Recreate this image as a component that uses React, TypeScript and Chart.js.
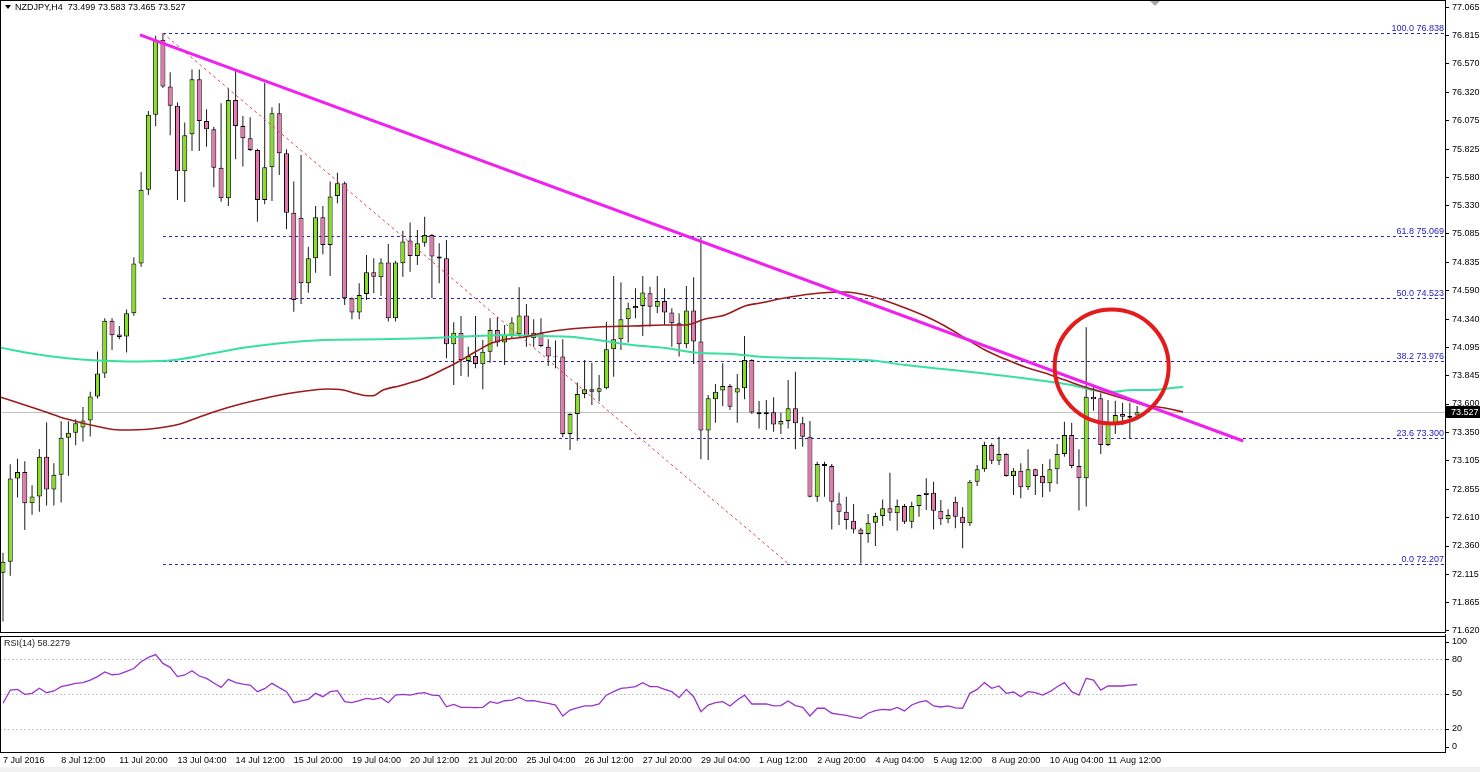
import React, { useEffect, useRef } from "react";
import { Chart, registerables } from "chart.js";

Chart.register(...registerables);

const FONT = '"Liberation Sans", Arial, sans-serif';

const SYMBOL = "NZDJPY,H4";
const TIME_LABELS = [
  "7 Jul 2016", "8 Jul 12:00", "11 Jul 20:00", "13 Jul 04:00", "14 Jul 12:00",
  "15 Jul 20:00", "19 Jul 04:00", "20 Jul 12:00", "21 Jul 20:00", "25 Jul 04:00",
  "26 Jul 12:00", "27 Jul 20:00", "29 Jul 04:00", "1 Aug 12:00", "2 Aug 20:00",
  "4 Aug 04:00", "5 Aug 12:00", "8 Aug 20:00", "10 Aug 04:00", "11 Aug 12:00",
];
const LABEL_STEP = 8;

const OPEN = [
  72.127, 72.223, 72.950, 73.006, 72.733, 72.793, 73.140, 72.853, 72.983, 73.306,
  73.349, 73.395, 73.456, 73.666, 73.866, 74.326, 74.206, 74.190, 74.392, 74.826,
  75.472, 76.125, 76.781, 76.372, 76.205, 75.632, 75.955, 76.435, 76.072, 75.999,
  75.664, 75.396, 76.255, 76.028, 75.920, 75.818, 75.382, 75.667, 76.139, 75.789,
  75.271, 75.227, 74.654, 74.872, 75.230, 74.989, 75.417, 75.527, 74.523, 74.398,
  74.561, 74.750, 74.707, 74.835, 74.348, 74.829, 75.027, 74.893, 75.009, 75.076,
  74.887, 74.873, 74.121, 74.223, 73.976, 74.020, 73.947, 74.057, 74.247, 74.136,
  74.203, 74.209, 74.372, 74.174, 74.223, 74.101, 74.014, 74.014, 73.338, 73.513,
  73.688, 73.729, 73.708, 73.737, 74.078, 74.165, 74.340, 74.436, 74.456, 74.567,
  74.450, 74.500, 74.398, 74.305, 74.121, 74.416, 74.145, 73.368, 73.641, 73.717,
  73.758, 73.700, 73.737, 73.985, 73.527, 73.510, 73.527, 73.422, 73.451, 73.562,
  73.431, 73.315, 72.791, 73.076, 73.058, 72.732, 72.660, 72.581, 72.505, 72.464,
  72.563, 72.622, 72.689, 72.645, 72.709, 72.572, 72.709, 72.805, 72.825, 72.668,
  72.593, 72.747, 72.616, 72.558, 72.922, 73.030, 73.242, 73.105, 73.163, 72.971,
  73.018, 72.872, 73.030, 72.971, 72.907, 73.030, 73.163, 73.329, 73.059, 72.951,
  73.664, 73.650, 73.242, 73.425, 73.513, 73.480, 73.499,
];
const HIGH = [
  72.300, 73.073, 73.123, 73.099, 72.890, 73.206, 73.439, 73.083, 73.449, 73.449,
  73.466, 73.573, 73.706, 74.059, 74.349, 74.349, 74.282, 74.426, 74.882, 75.625,
  76.158, 76.815, 76.838, 76.498, 76.232, 76.058, 76.520, 76.520, 76.173, 76.022,
  76.226, 76.357, 76.520, 76.115, 76.104, 75.830, 76.406, 76.191, 76.226, 75.824,
  75.542, 75.775, 74.974, 75.329, 75.329, 75.542, 75.620, 75.542, 74.530, 74.654,
  74.901, 74.872, 74.873, 74.998, 74.850, 75.114, 75.184, 75.120, 75.236, 75.085,
  75.003, 75.033, 74.313, 74.369, 74.101, 74.369, 74.159, 74.348, 74.357, 74.290,
  74.357, 74.619, 74.473, 74.340, 74.348, 74.165, 74.154, 74.165, 73.520, 73.787,
  73.985, 73.961, 73.854, 74.319, 74.718, 74.660, 74.485, 74.611, 74.718, 74.625,
  74.718, 74.611, 74.436, 74.392, 74.631, 74.707, 75.062, 73.679, 73.775, 73.956,
  73.775, 73.862, 74.194, 73.990, 73.626, 73.635, 73.658, 73.524, 73.809, 73.882,
  73.489, 73.451, 73.096, 73.096, 73.076, 72.828, 72.791, 72.726, 72.520, 72.639,
  72.651, 72.767, 73.000, 72.767, 72.726, 72.747, 72.810, 72.951, 72.921, 72.761,
  72.680, 72.791, 72.698, 72.936, 73.067, 73.271, 73.257, 73.315, 73.170, 73.038,
  73.082, 73.204, 73.035, 73.076, 73.117, 73.251, 73.446, 73.437, 73.204, 74.270,
  73.766, 73.693, 73.635, 73.629, 73.612, 73.612, 73.583,
];
const LOW = [
  71.700, 72.100, 72.783, 72.500, 72.633, 72.660, 72.713, 72.713, 72.740, 72.973,
  73.239, 73.273, 73.316, 73.649, 73.826, 74.072, 74.166, 74.049, 74.370, 74.799,
  75.425, 76.025, 76.360, 75.948, 75.382, 75.365, 75.810, 75.810, 75.847, 75.492,
  75.367, 75.329, 75.737, 75.673, 75.810, 75.192, 75.344, 75.373, 75.600, 75.126,
  74.406, 74.473, 74.572, 74.747, 74.907, 74.718, 75.353, 74.465, 74.340, 74.340,
  74.508, 74.567, 74.544, 74.320, 74.320, 74.712, 74.756, 74.814, 74.974, 74.523,
  74.654, 73.999, 73.766, 73.845, 73.839, 73.912, 73.728, 73.961, 74.101, 73.941,
  74.174, 74.188, 74.101, 74.101, 74.095, 73.932, 73.912, 73.309, 73.199, 73.280,
  73.650, 73.592, 73.621, 73.728, 73.839, 74.072, 74.136, 74.349, 74.194, 74.276,
  74.392, 74.290, 74.101, 74.014, 74.087, 73.950, 73.117, 73.111, 73.437, 73.583,
  73.548, 73.437, 73.641, 73.513, 73.387, 73.373, 73.358, 73.338, 73.387, 73.204,
  73.227, 72.785, 72.747, 72.791, 72.505, 72.543, 72.505, 72.470, 72.207, 72.389,
  72.360, 72.534, 72.581, 72.494, 72.552, 72.514, 72.616, 72.674, 72.505, 72.543,
  72.558, 72.514, 72.340, 72.535, 72.884, 73.009, 73.076, 73.067, 72.965, 72.805,
  72.776, 72.849, 72.805, 72.785, 72.834, 72.902, 73.140, 73.038, 72.669, 72.704,
  73.542, 73.163, 73.233, 73.338, 73.417, 73.300, 73.465,
];
const CLOSE = [
  72.223, 72.950, 73.006, 72.733, 72.793, 73.140, 72.853, 72.983, 73.306, 73.349,
  73.433, 73.456, 73.666, 73.866, 74.326, 74.200, 74.185, 74.392, 74.826, 75.472,
  76.125, 76.781, 76.372, 76.205, 75.632, 75.948, 76.435, 76.072, 75.999, 75.664,
  75.396, 76.255, 76.028, 75.920, 75.818, 75.382, 75.667, 76.139, 75.789, 75.271,
  74.508, 74.654, 74.872, 75.230, 74.989, 75.411, 75.527, 74.523, 74.398, 74.552,
  74.750, 74.712, 74.835, 74.348, 74.835, 75.018, 74.893, 75.003, 75.076, 74.887,
  74.870, 74.121, 74.223, 73.985, 74.020, 73.950, 74.057, 74.247, 74.136, 74.203,
  74.311, 74.372, 74.182, 74.223, 74.107, 74.014, 74.008, 73.338, 73.513, 73.688,
  73.729, 73.708, 73.737, 74.078, 74.165, 74.340, 74.436, 74.456, 74.573, 74.450,
  74.500, 74.398, 74.305, 74.121, 74.416, 74.145, 73.368, 73.650, 73.708, 73.758,
  73.577, 73.737, 73.985, 73.525, 73.510, 73.527, 73.422, 73.451, 73.562, 73.431,
  73.315, 72.791, 73.076, 73.058, 72.747, 72.660, 72.587, 72.505, 72.464, 72.563,
  72.622, 72.689, 72.651, 72.709, 72.572, 72.709, 72.805, 72.825, 72.668, 72.593,
  72.631, 72.616, 72.558, 72.922, 73.030, 73.242, 73.105, 73.163, 72.971, 73.018,
  72.872, 73.030, 72.971, 72.907, 73.030, 73.163, 73.329, 73.059, 72.951, 73.664,
  73.641, 73.242, 73.425, 73.504, 73.489, 73.495, 73.527,
];

const RSI = [
  42, 53.4, 54, 49.7, 50.6, 54.9, 51.1, 52.6, 56.3, 57.7,
  59.2, 59.8, 62, 65, 69, 66.6, 67.2, 69.5, 72, 77.8,
  81.6, 84, 76.4, 73, 65, 66.4, 70, 65.5, 63.5, 59.5,
  55.7, 62.6, 59.8, 58.5, 57.7, 52, 54.6, 59.2, 55.5, 52,
  42.5, 44, 45.4, 50.6, 47.7, 52, 52.9, 43.4, 42.5, 44.3,
  46.3, 45.4, 46.8, 42.5, 49.1, 49.7, 49.1, 50.5, 51.1, 49.1,
  48.6, 39, 41.1, 38.5, 38.5, 38.3, 38.5, 43.4, 42, 44.2,
  44.8, 47.1, 44, 44.3, 43, 42, 40.5, 31, 36.2, 38,
  39.7, 39.7, 41.4, 49, 52, 54.9, 55.5, 56.3, 59.8, 56.3,
  56.3, 54, 52, 46.8, 54, 47.7, 34.8, 40.5, 42.5, 43.4,
  39.7, 44.8, 49, 41.4, 41.4, 41.4, 39.7, 40, 44, 40,
  38.5, 31, 37.7, 37.7, 33.4, 32.5, 31.5, 30, 29, 33.4,
  35.6, 36.8, 36.2, 38.5, 35.4, 40.5, 43, 44.3, 39.7, 38.8,
  39.7, 38, 37.7, 50.6, 54, 59.8, 54.9, 56.9, 50.6, 51.7,
  47.7, 52, 51.1, 49, 52, 56.3, 59.8, 52, 49, 63.5,
  62, 53.4, 56.9, 57, 56.9, 57.7, 58.2,
];
const RSI_LAST = "58.2279";

const MA_BROWN_X = [
  -0.41, 5.09, 8.8, 13.34, 16.09, 20.22, 24.35, 27.1, 29.85, 32.19, 34.94, 38.1, 40.85, 44.57,
  46.77, 48.14, 50.07, 50.89, 52.27, 54.61, 58.05, 60.39, 62.59, 64.92, 67.26, 69.46, 71.8,
  74.14, 77.99, 81.84, 86.52, 91.06, 93.81, 96.56, 99.31, 102.06, 104.13, 108.25, 112.38,
  115.82, 119.26, 123.38, 126.82, 129.57, 132.32, 135.08, 137.83, 140.58, 143.33, 146.08,
  148.83, 151.58, 154.33, 157.08, 159.83, 162.31,
];
const MA_BROWN_Y = [
  73.661, 73.548, 73.469, 73.399, 73.373, 73.382, 73.425, 73.489, 73.548, 73.591, 73.635,
  73.679, 73.707, 73.731, 73.722, 73.699, 73.672, 73.672, 73.722, 73.76, 73.827, 73.897,
  73.967, 74.054, 74.133, 74.168, 74.185, 74.22, 74.255, 74.272, 74.281, 74.29, 74.29,
  74.342, 74.377, 74.456, 74.482, 74.534, 74.569, 74.578, 74.543, 74.456, 74.368, 74.281,
  74.176, 74.071, 73.993, 73.923, 73.87, 73.809, 73.748, 73.696, 73.644, 73.591, 73.565, 73.53,
];
const MA_GREEN_X = [
  -0.41, 4.13, 8.8, 12.93, 17.06, 22.5, 28.89, 33.56, 38.1, 44.02, 51.86, 58.05, 64.92,
  69.46, 74.14, 77.99, 81.84, 86.52, 91.06, 95.6, 100.28, 104.13, 109.63, 115.13, 119.94,
  124.07, 129.57, 134.11, 138.79, 143.33, 147.04, 149.79, 152.54, 155.3, 158.05, 160.8, 162.31,
];
const MA_GREEN_Y = [
  74.093, 74.039, 73.999, 73.979, 73.972, 73.978, 74.043, 74.095, 74.13, 74.159,
  74.165, 74.174, 74.194, 74.203, 74.194, 74.188, 74.159, 74.115, 74.089, 74.048, 74.037,
  74.013, 74.002, 73.993, 73.978, 73.94, 73.903, 73.873, 73.838, 73.801, 73.766, 73.722,
  73.707, 73.722, 73.722, 73.74, 73.751,
];

const PRICE_TICKS = [
  77.065, 76.815, 76.57, 76.32, 76.075, 75.825, 75.58, 75.33, 75.085, 74.835, 74.59, 74.34,
  74.095, 73.845, 73.6, 73.35, 73.105, 72.855, 72.61, 72.36, 72.115, 71.865, 71.62,
];
const RSI_TICKS = [100, 80, 50, 20, 0];
const RSI_LEVELS = [80, 50, 20];

const FIB_LEVELS = [100, 61.8, 50, 38.2, 23.6, 0];
const FIB_PRICES = [76.838, 75.069, 74.523, 73.976, 73.3, 72.207];
const FIB_ANCHOR_X = [22, 108];
const FIB_ANCHOR_Y = [76.838, 72.207];

const TREND_X = [18.84, 170.6];
const TREND_Y = [76.823, 73.277];

const CIRCLE_X = 152.5;
const CIRCLE_Y = 73.927;
const CIRCLE_R = 57;

const X_MIN = -0.41;
const X_MAX = 198.35;
const Y_MIN = 71.609;
const Y_MAX = 77.128;

const BULL = "#84e01e";
const BEAR = "#e674ad";

const zip = (xs: number[], ys: number[]) =>
  xs.slice(0, Math.min(xs.length, ys.length)).map((x, i) => ({ x, y: ys[i] }));

const mainDecor = {
  id: "mainDecor",
  beforeDatasetsDraw(chart: any) {
    const { ctx, chartArea: a, scales } = chart;
    const x = scales.x;
    const y = scales.y;
    ctx.save();
    ctx.beginPath();
    ctx.rect(a.left, a.top, a.right - a.left, a.bottom - a.top);
    ctx.clip();
    ctx.lineWidth = 1;
    const last = CLOSE[CLOSE.length - 1];
    const py = Math.round(y.getPixelForValue(last)) + 0.5;
    ctx.strokeStyle = "#c0c0c0";
    ctx.beginPath();
    ctx.moveTo(a.left, py);
    ctx.lineTo(a.right, py);
    ctx.stroke();
    const fx = x.getPixelForValue(FIB_ANCHOR_X[0]);
    ctx.strokeStyle = "#2424b4";
    ctx.setLineDash([3, 3]);
    FIB_PRICES.forEach((p) => {
      const yy = Math.round(y.getPixelForValue(p)) + 0.5;
      ctx.beginPath();
      ctx.moveTo(fx, yy);
      ctx.lineTo(a.right, yy);
      ctx.stroke();
    });
    ctx.restore();
  },
  afterDatasetsDraw(chart: any) {
    const { ctx, chartArea: a, scales } = chart;
    const x = scales.x;
    const y = scales.y;
    ctx.save();
    ctx.strokeStyle = "#e31b1b";
    ctx.lineWidth = 4;
    ctx.beginPath();
    ctx.arc(x.getPixelForValue(CIRCLE_X), y.getPixelForValue(CIRCLE_Y), CIRCLE_R, 0, Math.PI * 2);
    ctx.stroke();
    ctx.font = `9px ${FONT}`;
    ctx.fillStyle = "#2020c0";
    ctx.textAlign = "right";
    ctx.textBaseline = "alphabetic";
    FIB_LEVELS.forEach((lv, k) => {
      const yy = y.getPixelForValue(FIB_PRICES[k]);
      ctx.fillText(`${lv.toFixed(1)} ${FIB_PRICES[k].toFixed(3)}`, a.right - 1, yy - 2);
    });
    ctx.restore();
  },
  afterDraw(chart: any) {
    const { ctx, chartArea: a, scales, width } = chart;
    const y = scales.y;
    ctx.save();
    ctx.strokeStyle = "#000";
    ctx.lineWidth = 1;
    ctx.strokeRect(a.left + 0.5, a.top + 0.5, a.right - a.left, a.bottom - a.top);
    ctx.fillStyle = "#000";
    ctx.beginPath();
    ctx.moveTo(5, 5);
    ctx.lineTo(11, 5);
    ctx.lineTo(8, 9);
    ctx.closePath();
    ctx.fill();
    const n = CLOSE.length - 1;
    const title = `${SYMBOL}  ${OPEN[n].toFixed(3)} ${HIGH[n].toFixed(3)} ${LOW[n].toFixed(3)} ${CLOSE[n].toFixed(3)}`;
    ctx.font = `9px ${FONT}`;
    ctx.textAlign = "left";
    ctx.textBaseline = "middle";
    ctx.fillText(title, 15, 8);
    ctx.fillStyle = "#a8a8a8";
    ctx.beginPath();
    ctx.moveTo(a.left + 1150, 1);
    ctx.lineTo(a.left + 1160, 1);
    ctx.lineTo(a.left + 1155, 6);
    ctx.closePath();
    ctx.fill();
    const py = Math.round(y.getPixelForValue(CLOSE[n]));
    ctx.fillStyle = "#000";
    ctx.fillRect(a.right + 1, py - 6, width - a.right - 1, 12);
    ctx.fillStyle = "#fff";
    ctx.fillText(CLOSE[n].toFixed(3), a.right + 6, py + 0.5);
    ctx.restore();
  },
};

const rsiDecor = {
  id: "rsiDecor",
  beforeDatasetsDraw(chart: any) {
    const { ctx, chartArea: a, scales } = chart;
    const y = scales.y;
    ctx.save();
    ctx.strokeStyle = "#c4c4c4";
    ctx.lineWidth = 1;
    ctx.setLineDash([2, 2]);
    RSI_LEVELS.forEach((v) => {
      const yy = Math.round(y.getPixelForValue(v)) + 0.5;
      ctx.beginPath();
      ctx.moveTo(a.left, yy);
      ctx.lineTo(a.right, yy);
      ctx.stroke();
    });
    ctx.restore();
  },
  afterDraw(chart: any) {
    const { ctx, chartArea: a, scales } = chart;
    const y = scales.y;
    ctx.save();
    ctx.strokeStyle = "#000";
    ctx.lineWidth = 1;
    ctx.strokeRect(a.left + 0.5, a.top + 0.5, a.right - a.left, a.bottom - a.top);
    ctx.beginPath();
    ctx.moveTo(a.right + 0.5, 0);
    ctx.lineTo(a.right + 0.5, a.top);
    ctx.stroke();
    ctx.font = `9px ${FONT}`;
    ctx.fillStyle = "#000";
    ctx.textAlign = "left";
    ctx.textBaseline = "middle";
    RSI_TICKS.forEach((v) => {
      const raw = y.getPixelForValue(v);
      const yy = Math.min(Math.max(raw, a.top + 6), a.bottom - 5);
      ctx.beginPath();
      ctx.moveTo(a.right, Math.round(yy) + 0.5);
      ctx.lineTo(a.right + 4, Math.round(yy) + 0.5);
      ctx.stroke();
      ctx.fillText(String(v), a.right + 7, yy);
    });
    ctx.fillStyle = "#222";
    ctx.fillText(`RSI(14) ${RSI_LAST}`, a.left + 4, a.top + 8);
    ctx.restore();
  },
};

export default function App() {
  const mainRef = useRef<HTMLCanvasElement>(null);
  const rsiRef = useRef<HTMLCanvasElement>(null);

  useEffect(() => {
    document.body.style.margin = "0";
    const idx = OPEN.map((_, i) => i);
    const bodyColors = idx.map((i) => (CLOSE[i] >= OPEN[i] ? BULL : BEAR));

    const main = new Chart(mainRef.current as HTMLCanvasElement, {
      type: "bar",
      data: {
        datasets: [
          {
            type: "line",
            data: zip(TREND_X, TREND_Y),
            borderColor: "#f020f0",
            borderWidth: 3,
            pointRadius: 0,
            order: 1,
          } as any,
          {
            type: "line",
            data: zip(MA_BROWN_X, MA_BROWN_Y),
            borderColor: "#9e1a1a",
            borderWidth: 1.6,
            pointRadius: 0,
            cubicInterpolationMode: "monotone",
            order: 2,
          } as any,
          {
            type: "line",
            data: zip(MA_GREEN_X, MA_GREEN_Y),
            borderColor: "#38e0a0",
            borderWidth: 2,
            pointRadius: 0,
            cubicInterpolationMode: "monotone",
            order: 3,
          } as any,
          {
            type: "line",
            data: zip(FIB_ANCHOR_X, FIB_ANCHOR_Y),
            borderColor: "#e04848",
            borderWidth: 1,
            borderDash: [3, 3],
            pointRadius: 0,
            order: 4,
          } as any,
          {
            type: "bar",
            data: idx.map((i) => ({ x: i, y: [OPEN[i], CLOSE[i]] })),
            backgroundColor: bodyColors,
            borderColor: "#000",
            borderWidth: 1,
            borderSkipped: false,
            barThickness: 5,
            grouped: false,
            inflateAmount: 0,
            order: 5,
          } as any,
          {
            type: "bar",
            data: idx.map((i) => ({ x: i, y: [LOW[i], HIGH[i]] })),
            backgroundColor: "#1a1a1a",
            borderWidth: 0,
            barThickness: 1,
            grouped: false,
            inflateAmount: 0,
            order: 6,
          } as any,
        ],
      },
      options: {
        responsive: false,
        animation: false,
        events: [],
        layout: { padding: { left: 0, right: 0, top: 0, bottom: 8 } },
        plugins: { legend: { display: false }, tooltip: { enabled: false } },
        scales: {
          x: { type: "linear", min: X_MIN, max: X_MAX, offset: false, display: false },
          y: {
            type: "linear",
            position: "right",
            min: Y_MIN,
            max: Y_MAX,
            afterBuildTicks: (s: any) => {
              s.ticks = PRICE_TICKS.map((v) => ({ value: v }));
            },
            afterFit: (s: any) => {
              s.width = 35;
              s.paddingTop = 0;
              s.paddingBottom = 0;
            },
            ticks: {
              autoSkip: false,
              padding: 3,
              color: "#000",
              font: { family: FONT, size: 9 },
              callback: (v: any) => Number(v).toFixed(3),
            },
            grid: { display: true, drawOnChartArea: false, drawTicks: true, tickLength: 4, color: "#000" },
            border: { display: false },
          },
        },
      } as any,
      plugins: [mainDecor],
    });

    const rsi = new Chart(rsiRef.current as HTMLCanvasElement, {
      type: "line",
      data: {
        datasets: [
          {
            data: RSI.map((v, i) => ({ x: i, y: v })),
            borderColor: "#9933cc",
            borderWidth: 1.3,
            pointRadius: 0,
            tension: 0,
          },
        ],
      },
      options: {
        responsive: false,
        animation: false,
        events: [],
        layout: { padding: { left: 0, right: 35, top: 2, bottom: 0 } },
        plugins: { legend: { display: false }, tooltip: { enabled: false } },
        scales: {
          x: {
            type: "linear",
            min: X_MIN,
            max: X_MAX,
            offset: false,
            afterBuildTicks: (s: any) => {
              s.ticks = TIME_LABELS.map((_, k) => ({ value: k * LABEL_STEP }));
            },
            afterFit: (s: any) => {
              s.height = 20;
              s.paddingLeft = 0;
              s.paddingRight = 0;
            },
            ticks: {
              autoSkip: false,
              maxRotation: 0,
              minRotation: 0,
              align: "start",
              padding: 3,
              color: "#000",
              font: { family: FONT, size: 9 },
              callback: (v: any) => TIME_LABELS[Math.round(Number(v) / LABEL_STEP)] ?? "",
            },
            grid: { display: false, drawTicks: false },
            border: { display: false },
          },
          y: { type: "linear", min: 0, max: 100, display: false },
        },
      } as any,
      plugins: [rsiDecor],
    });

    return () => {
      main.destroy();
      rsi.destroy();
    };
  }, []);

  return (
    <div
      style={{
        position: "absolute",
        left: 0,
        top: 0,
        width: 1480,
        height: 772,
        background: "#fff",
        overflow: "hidden",
      }}
    >
      <canvas
        ref={mainRef}
        width={1480}
        height={640}
        style={{ position: "absolute", left: 0, top: 0, width: 1480, height: 640 }}
      />
      <canvas
        ref={rsiRef}
        width={1480}
        height={138}
        style={{ position: "absolute", left: 0, top: 634, width: 1480, height: 138 }}
      />
      <div
        style={{ position: "absolute", left: 0, top: 767, width: 1480, height: 5, background: "#f0f0f0" }}
      />
    </div>
  );
}
